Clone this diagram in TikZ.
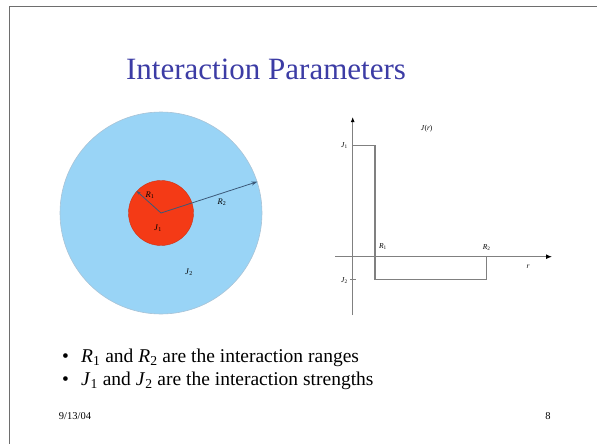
\documentclass[tikz,border=0pt]{standalone}
\usepackage{fontspec}
\setmainfont{Liberation Serif}
\usetikzlibrary{arrows.meta,positioning,calc}
\definecolor{titleblue}{HTML}{3C3CA5}
\definecolor{framegray}{HTML}{6E6E6E}
\definecolor{skyfill}{HTML}{99D4F6}
\definecolor{skyedge}{HTML}{A9C3D6}
\definecolor{corered}{HTML}{F43A16}
\definecolor{ray}{HTML}{3B5878}
\definecolor{axisgray}{HTML}{808080}
\newcommand{\vsub}[2]{\textit{#1}\textsubscript{#2}}

\begin{document}
\begin{tikzpicture}[x=1pt,y=-1pt,
  ttl/.style={font=\fontsize{31}{36}\selectfont,text=titleblue,inner sep=0pt},
  bul/.style={font=\fontsize{19.5}{23}\selectfont,inner sep=0pt,anchor=base west},
  foot/.style={font=\fontsize{10.5}{12}\selectfont,inner sep=0pt,anchor=base},
  lbl/.style={font=\fontsize{7.5}{9}\selectfont,inner sep=0pt},
  zone/.style={font=\fontsize{8.5}{10}\selectfont,inner sep=0pt},
  axis/.style={axisgray,line width=1.1pt}]
\useasboundingbox (0,0) rectangle (597,444);
% slide frame
\draw[framegray,line width=1.5pt] (9.5,444) -- (9.5,6.5) -- (597,6.5);
\node[ttl,anchor=base] (title) at (266,80) {Interaction Parameters};
% the two interaction zones
\coordinate (ctr) at (161,213);
\node[circle,draw=skyedge,fill=skyfill,line width=0.6pt,minimum size=202pt,inner sep=0pt] (outer) at (ctr) {};
\node[circle,draw=corered!85!black,fill=corered,line width=0.4pt,minimum size=65pt,inner sep=0pt] (inner) at (ctr) {};
\draw[ray,line width=0.8pt,-{Stealth[length=4pt,width=3pt]}] (ctr) -- (inner.138);
\draw[ray,line width=0.8pt,-{Stealth[length=6pt,width=4pt]}] (ctr) -- (outer.18.6);
\node[zone] (rlab1) at (150,195) {\vsub{R}{1}};
\node[zone] (rlab2) at (222,202) {\vsub{R}{2}};
\node[zone] (jlab1) at (158,228) {\vsub{J}{1}};
\node[zone] (jlab2) at (189,272) {\vsub{J}{2}};
% J(r) plot
\coordinate (ytop) at (352.7,117);
\coordinate (ybot) at (352.7,315);
\coordinate (xleft) at (335,256.7);
\coordinate (xright) at (552,256.7);
\coordinate (jone) at (352.7,145.7);
\coordinate (rone) at (375,279.3);
\coordinate (rtwo) at (486.7,256.7);
\draw[axis,-{Latex[length=5pt,width=4pt,color=black]}] (ybot) -- (ytop);
\draw[axis,-{Latex[length=6pt,width=5pt,color=black]}] (xleft) -- (xright);
\draw[axis] (jone) -| (rone) -| (rtwo);
\draw[axis] (350,279.3) -- (356,279.3);
\node[lbl] (jr) at (426.7,129) {\textit{J}(\textit{r})};
\node[lbl,anchor=east] (jax1) at (348,146) {\vsub{J}{1}};
\node[lbl,anchor=east] (jax2) at (348,281) {\vsub{J}{2}};
\node[lbl] (rax1) at (383,247) {\vsub{R}{1}};
\node[lbl] (rax2) at (486.7,248) {\vsub{R}{2}};
\node[lbl] (rax) at (528,267) {\textit{r}};
% bullets
\node[bul] (dot1) at (62,362) {\textbullet};
\node[bul] (item1) at (81,362) {\vsub{R}{1} and \vsub{R}{2} are the interaction ranges};
\node[bul] (dot2) at (62,385) {\textbullet};
\node[bul] (item2) at (81,385) {\vsub{J}{1} and \vsub{J}{2} are the interaction strengths};
\node[foot] (date) at (75,419) {9/13/04};
\node[foot] (page) at (548,419) {8};
\end{tikzpicture}
\end{document}
